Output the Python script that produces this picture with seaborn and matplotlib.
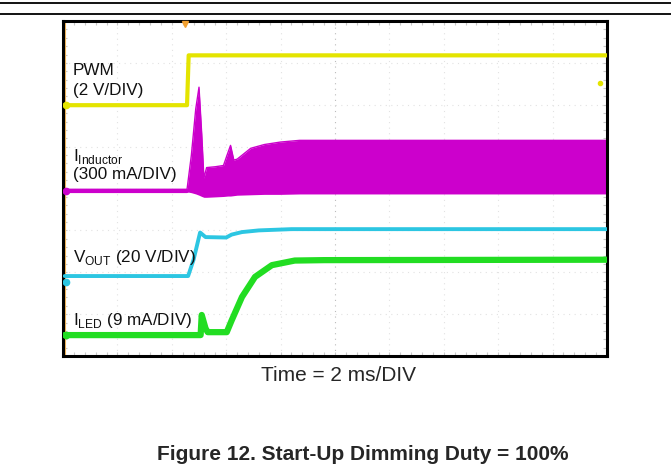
import numpy as np
import pandas as pd
import matplotlib.pyplot as plt
import seaborn as sns
from matplotlib.lines import Line2D

# scope traces in divisions (x: 0-10, y: 0-8)
pwm_t = [0.03, 2.28, 2.31, 10.0]
pwm_v = [5.99, 5.99, 7.18, 7.18]

ind_t = [0.03, 2.28, 2.36, 2.44, 2.50, 2.55, 2.59, 2.64, 2.80, 2.95, 3.03, 3.08, 3.14, 3.20,
         3.45, 3.70, 4.00, 4.35, 10.0]
ind_hi = [3.98, 3.98, 4.80, 5.90, 6.42, 5.30, 4.25, 4.50, 4.52, 4.55, 4.85, 5.03, 4.68, 4.70,
          4.96, 5.05, 5.11, 5.15, 5.15]
ind_lo = [3.92, 3.92, 3.90, 3.87, 3.84, 3.81, 3.79, 3.79, 3.80, 3.81, 3.82, 3.82, 3.83, 3.84,
          3.85, 3.86, 3.86, 3.87, 3.87]

vout_t = [0.03, 2.30, 2.40, 2.52, 2.62, 3.00, 3.10, 3.29, 3.60, 4.20, 10.0]
vout_v = [1.91, 1.91, 2.30, 2.95, 2.84, 2.83, 2.90, 2.96, 3.00, 3.03, 3.03]

iled_t = [0.03, 2.53, 2.55, 2.62, 2.66, 3.01, 3.10, 3.29, 3.53, 3.84, 4.26, 4.80, 10.0]
iled_v = [0.50, 0.50, 0.98, 0.66, 0.57, 0.57, 0.85, 1.41, 1.89, 2.17, 2.28, 2.29, 2.30]

label_lines = ["PWM", "(2 V/DIV)", "I$_{\\mathrm{Inductor}}$", "(300 mA/DIV)",
               "V$_{\\mathrm{OUT}}$ (20 V/DIV)", "I$_{\\mathrm{LED}}$ (9 mA/DIV)"]
label_y = [6.83, 6.33, 4.77, 4.33, 2.36, 0.85]

yellow = "#e4e400"
magenta = "#cc00cc"
cyan = "#2cc6e2"
green = "#22dd22"

sns.set_style("white")
plt.rcParams["font.family"] = ["Liberation Sans", "DejaVu Sans"]
plt.rcParams["mathtext.fontset"] = "custom"
plt.rcParams["mathtext.rm"] = "Liberation Sans"

fig = plt.figure(figsize=(6.71, 4.66), dpi=100)
ax = fig.add_axes([0.0939, 0.236, 0.8107, 0.7189])
ax.set_xlim(0, 10)
ax.set_ylim(0, 8)

# faint scope grid
for gx in range(1, 10):
    ax.axvline(gx, color="#bbbbbb" if gx == 5 else "#e2e2e2",
               lw=0.8, ls=(0, (1, 4)), zorder=0)
for gy in range(1, 8):
    ax.axhline(gy, color="#e2e2e2", lw=0.8, ls=(0, (1, 4)), zorder=0)
ax.set_xticks(np.arange(0, 10.01, 0.2))
ax.set_yticks(np.arange(0, 8.01, 0.2))
ax.tick_params(axis="both", which="both", direction="in", length=3,
               color="#c8c8c8", labelbottom=False, labelleft=False,
               top=True, right=True, bottom=True, left=True)
for s in ax.spines.values():
    s.set_color("black")
    s.set_linewidth(2.2)

# trigger reference markers
ax.axvline(0.04, color="#f2b45a", lw=1.5, zorder=1)
ax.plot([2.24], [7.93], marker="v", color="#f2a030", ms=5, clip_on=False, zorder=5)

# inductor current band
df_ind = pd.DataFrame({"t": ind_t, "hi": ind_hi, "lo": ind_lo})
ax.fill_between(df_ind["t"], df_ind["lo"], df_ind["hi"], color=magenta, lw=0, zorder=2)
sns.lineplot(data=df_ind, x="t", y="hi", ax=ax, color=magenta, lw=1.0, estimator=None, sort=False, zorder=2)
sns.lineplot(x=ind_t[:2], y=[3.95, 3.95], ax=ax, color=magenta, lw=3, estimator=None, sort=False, zorder=2)

sns.lineplot(x=pwm_t, y=pwm_v, ax=ax, color=yellow, lw=3, estimator=None, sort=False, zorder=3)
sns.lineplot(x=vout_t, y=vout_v, ax=ax, color=cyan, lw=2.8, estimator=None, sort=False, zorder=3)
sns.lineplot(x=iled_t, y=iled_v, ax=ax, color=green, lw=4.5, estimator=None, sort=False, zorder=3)
ax.set_xlabel("")
ax.set_ylabel("")

# channel markers at left edge
for yv, c in zip([pwm_v[0], 3.95, vout_v[0] - 0.15, iled_v[0]], [yellow, magenta, cyan, green]):
    ax.plot([0.06], [yv], marker="o", color=c, ms=4.5, zorder=4)
ax.plot([9.87], [6.52], marker="o", color=yellow, ms=3, zorder=4)

for txt, yv in zip(label_lines, label_y):
    ax.text(0.18, yv, txt, fontsize=12.3, color="#111111", va="center", ha="left", zorder=6)

fig.text(0.505, 0.195, "Time = 2 ms/DIV", fontsize=15, ha="center", va="center")
fig.text(0.541, 0.024, "Figure 12. Start-Up Dimming Duty = 100%", fontsize=15,
         fontweight="bold", ha="center", va="center")

fig.add_artist(Line2D([0, 1], [0.9936, 0.9936], color="black", lw=1.3))
fig.add_artist(Line2D([0, 1], [0.970, 0.970], color="black", lw=1.3))

fig.savefig("out.png", dpi=100)
